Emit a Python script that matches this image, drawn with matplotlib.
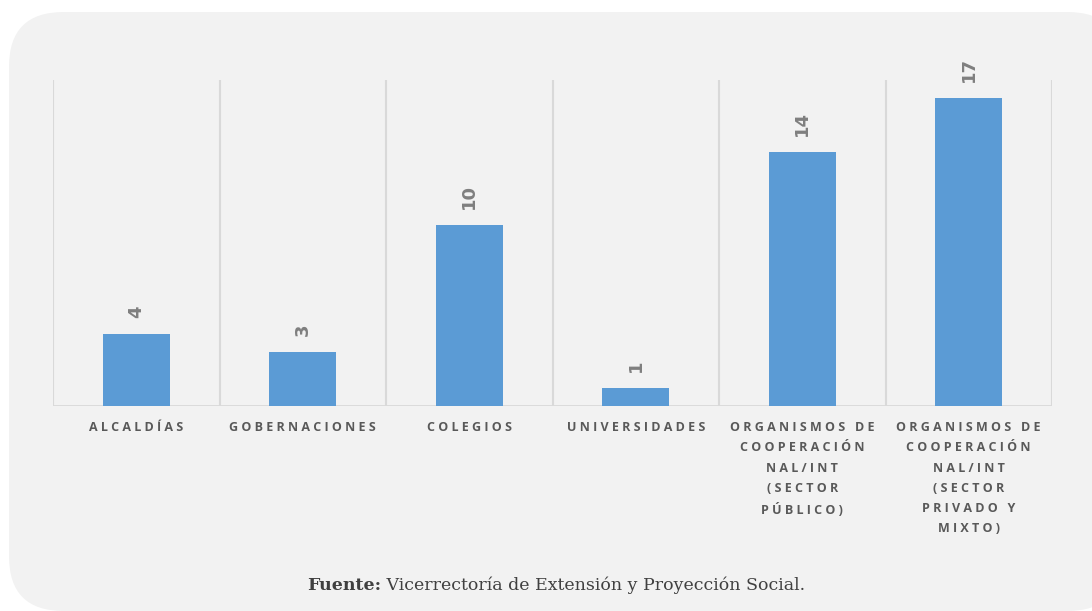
import numpy as np
import matplotlib.pyplot as plt
from matplotlib.patches import FancyBboxPatch

categories = [
    "ALCALDÍAS",
    "GOBERNACIONES",
    "COLEGIOS",
    "UNIVERSIDADES",
    "ORGANISMOS DE\nCOOPERACIÓN\nNAL/INT\n(SECTOR\nPÚBLICO)",
    "ORGANISMOS DE\nCOOPERACIÓN\nNAL/INT\n(SECTOR\nPRIVADO Y\nMIXTO)",
]
values = [4, 3, 10, 1, 14, 17]
source_bold = "Fuente:"
source_text = " Vicerrectoría de Extensión y Proyección Social."


def spaced(label):
    # imitate the wide letter spacing of the original
    return "\n".join(" ".join(line) for line in label.split("\n"))


W, H = 1092, 611
fig = plt.figure(figsize=(W / 100, H / 100), dpi=100)
fig.patch.set_facecolor("white")

# rounded grey panel
panel = FancyBboxPatch((9 / W, 0 / H), (W + 30 - 9) / W, (H - 12) / H,
                       boxstyle="round,pad=0,rounding_size=0.05",
                       transform=fig.transFigure, facecolor="#f2f2f2",
                       edgecolor="none", mutation_aspect=W / H, zorder=-10)
fig.patches.append(panel)

ax = fig.add_axes([53 / W, 1 - 406 / H, (1052 - 53) / W, (406 - 80) / H])
ax.set_facecolor("none")

n = len(categories)
x = np.arange(n)
ax.bar(x, values, width=0.4, color="#5b9bd5", zorder=3)
ax.set_xlim(-0.5, n - 0.5)
ax.set_ylim(0, 18)

# vertical separators between categories
for b in np.arange(n + 1) - 0.5:
    ax.axvline(b, color="#d9d9d9", lw=1.5, zorder=1)
ax.axhline(0, color="#d9d9d9", lw=2, zorder=2)

for s in ax.spines.values():
    s.set_visible(False)
ax.set_yticks([])
ax.set_xticks(x)
ax.set_xticklabels([spaced(c) for c in categories], fontsize=9,
                   fontweight="bold", color="#595959", family="Open Sans",
                   linespacing=1.72, va="top")
ax.tick_params(axis="x", length=0, pad=11)

for xi, v in zip(x, values):
    ax.annotate(str(v), (xi, v), xytext=(0, 11.5), textcoords="offset points",
                rotation=90, ha="center", va="bottom", fontsize=13,
                fontweight="bold", color="#7f7f7f")

y_src = 1 - 585 / H
t1 = fig.text(0.5, y_src, source_bold, fontsize=12.5, fontweight="bold",
              family="DejaVu Serif", color="#404040", ha="left", va="center")
t2 = fig.text(0.5, y_src, source_text, fontsize=12.5,
              family="DejaVu Serif", color="#404040", ha="left", va="center")
fig.canvas.draw()
w1 = t1.get_window_extent().width
w2 = t2.get_window_extent().width
start = 556 - (w1 + w2) / 2
t1.set_x(start / W)
t2.set_x((start + w1) / W)

fig.savefig("out.png", dpi=100)
